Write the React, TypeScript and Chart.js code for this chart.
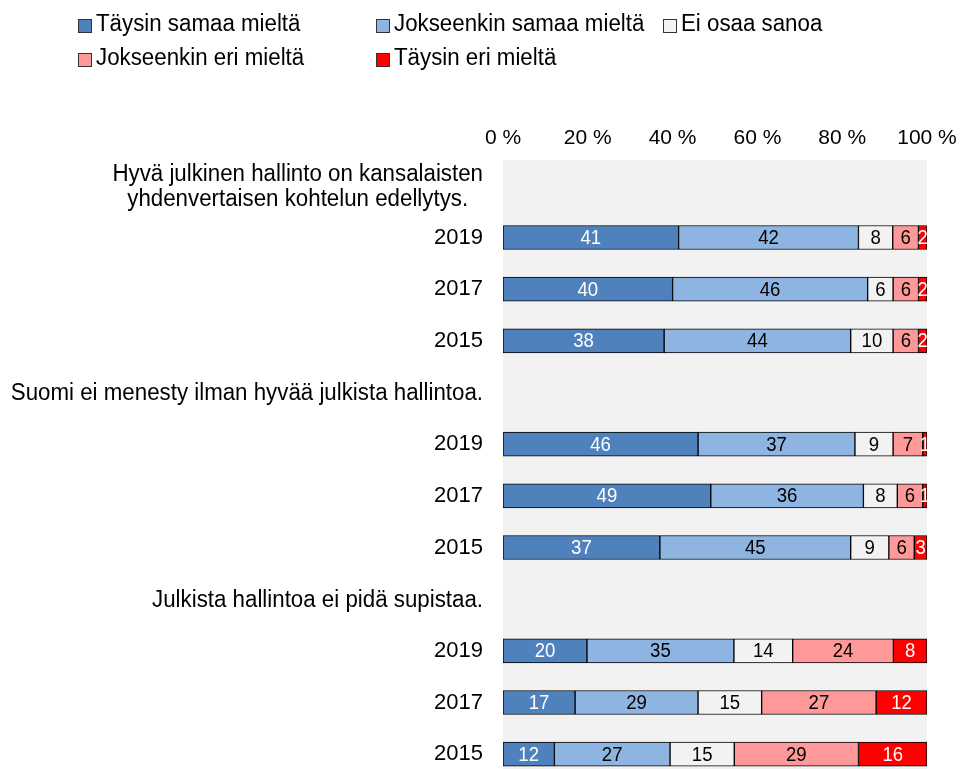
import React, { useEffect, useRef } from 'react';
import { Chart, registerables } from 'chart.js';

Chart.register(...registerables);

const FONT = "'Liberation Sans', Arial, Helvetica, sans-serif";
const STRETCH = 1.08;

// Row labels (arrays = question headings, strings = survey years)
const categories: (string | string[])[] = [
  ['Hyvä julkinen hallinto on kansalaisten', 'yhdenvertaisen kohtelun edellytys.'],
  '2019',
  '2017',
  '2015',
  ['Suomi ei menesty ilman hyvää julkista hallintoa.'],
  '2019',
  '2017',
  '2015',
  ['Julkista hallintoa ei pidä supistaa.'],
  '2019',
  '2017',
  '2015',
];

const seriesNames = [
  'Täysin samaa mieltä',
  'Jokseenkin samaa mieltä',
  'Ei osaa sanoa',
  'Jokseenkin eri mieltä',
  'Täysin eri mieltä',
];

const taysinSamaa = [null, 41, 40, 38, null, 46, 49, 37, null, 20, 17, 12];
const jokseenkinSamaa = [null, 42, 46, 44, null, 37, 36, 45, null, 35, 29, 27];
const eiOsaaSanoa = [null, 8, 6, 10, null, 9, 8, 9, null, 14, 15, 15];
const jokseenkinEri = [null, 6, 6, 6, null, 7, 6, 6, null, 24, 27, 29];
const taysinEri = [null, 2, 2, 2, null, 1, 1, 3, null, 8, 12, 16];

const xTicks = [0, 20, 40, 60, 80, 100];

const seriesValues = [taysinSamaa, jokseenkinSamaa, eiOsaaSanoa, jokseenkinEri, taysinEri];
const fillColors = ['#4f81bd', '#8eb4e2', '#f2f2f2', '#ff9999', '#ff0000'];
const labelColors = ['#ffffff', '#000000', '#000000', '#000000', '#ffffff'];

function stretchedText(ctx: CanvasRenderingContext2D, text: string, x: number, y: number) {
  ctx.save();
  ctx.translate(x, y);
  ctx.scale(1, STRETCH);
  ctx.fillText(text, 0, 0);
  ctx.restore();
}

export default function App() {
  const canvasRef = useRef<HTMLCanvasElement | null>(null);

  useEffect(() => {
    const canvas = canvasRef.current;
    if (!canvas) return;

    // 100 % stacked: each row scaled to its own total
    const totals = categories.map((_, i) =>
      seriesValues.reduce((s, arr) => s + (arr[i] ?? 0), 0)
    );

    const datasets = seriesValues.map((arr, k) => ({
      label: seriesNames[k],
      data: arr.map((v, i) => (v == null ? null : (v / totals[i]) * 100)),
      rawValues: arr,
      backgroundColor: fillColors[k],
      borderColor: '#000000',
      borderWidth: 1,
      borderSkipped: false,
      barThickness: 24,
      stack: 's',
    }));

    const bgPlugin = {
      id: 'plotBg',
      beforeDraw(chart: any) {
        const { ctx, chartArea } = chart;
        ctx.save();
        ctx.fillStyle = '#f2f2f2';
        ctx.fillRect(chartArea.left, chartArea.top, chartArea.right - chartArea.left, chartArea.bottom - chartArea.top);
        ctx.restore();
      },
    };

    const labelPlugin = {
      id: 'valueLabels',
      afterDatasetsDraw(chart: any) {
        const { ctx } = chart;
        ctx.save();
        ctx.font = `18.6px ${FONT}`;
        ctx.textAlign = 'center';
        ctx.textBaseline = 'middle';
        chart.data.datasets.forEach((ds: any, k: number) => {
          const meta = chart.getDatasetMeta(k);
          meta.data.forEach((el: any, i: number) => {
            const raw = ds.rawValues[i];
            if (raw == null) return;
            ctx.fillStyle = labelColors[k];
            stretchedText(ctx, String(raw), (el.base + el.x) / 2, el.y + 1);
          });
        });
        ctx.restore();
      },
    };

    const headingPlugin = {
      id: 'headings',
      afterDraw(chart: any) {
        const { ctx } = chart;
        const yScale = chart.scales.y;
        ctx.save();
        ctx.font = `22.3px ${FONT}`;
        ctx.fillStyle = '#000000';
        ctx.textAlign = 'center';
        ctx.textBaseline = 'middle';
        categories.forEach((c, i) => {
          if (!Array.isArray(c)) return;
          const y = yScale.getPixelForTick(i);
          const maxW = Math.max(...c.map((l) => ctx.measureText(l).width));
          const cx = yScale.right - 20 - maxW / 2;
          const lh = 25;
          const y0 = y - ((c.length - 1) * lh) / 2;
          c.forEach((line, j) => stretchedText(ctx, line, cx, y0 + j * lh + 1));
        });
        ctx.restore();
      },
    };

    const legendPlugin = {
      id: 'customLegend',
      afterDraw(chart: any) {
        const { ctx } = chart;
        const cols = [78, 376, 663];
        const rows = [26, 60];
        ctx.save();
        ctx.font = `22.3px ${FONT}`;
        ctx.textAlign = 'left';
        ctx.textBaseline = 'middle';
        chart.data.datasets.forEach((ds: any, k: number) => {
          const x = cols[k % 3];
          const y = rows[Math.floor(k / 3)];
          ctx.fillStyle = ds.backgroundColor;
          ctx.fillRect(x, y - 7, 14, 14);
          ctx.strokeStyle = '#333333';
          ctx.lineWidth = 1;
          ctx.strokeRect(x + 0.5, y - 6.5, 13, 13);
          ctx.fillStyle = '#000000';
          stretchedText(ctx, ds.label, x + 18, y - 2);
        });
        ctx.restore();
      },
    };

    const chart = new Chart(canvas, {
      type: 'bar',
      data: {
        labels: categories.map((c) => (Array.isArray(c) ? c.join(' ') : c)),
        datasets: datasets as any,
      },
      options: {
        indexAxis: 'y',
        responsive: false,
        animation: false,
        devicePixelRatio: 1,
        layout: { padding: { left: 0, right: 33, top: 0, bottom: 10 } },
        scales: {
          x: {
            type: 'linear',
            stacked: true,
            position: 'top',
            min: 0,
            max: 100,
            afterBuildTicks: (scale: any) => {
              scale.ticks = xTicks.map((v) => ({ value: v }));
            },
            ticks: {
              callback: (v: any) => `${v} %`,
              font: { size: 21, family: FONT },
              color: '#000000',
              padding: 9,
              maxRotation: 0,
            },
            grid: { display: false, drawTicks: false },
            border: { display: false },
            afterFit: (scale: any) => {
              scale.height = 160;
              scale.paddingLeft = 0;
              scale.paddingRight = 0;
            },
          },
          y: {
            type: 'category',
            stacked: true,
            ticks: {
              autoSkip: false,
              callback: (_v: any, i: number) => (Array.isArray(categories[i]) ? '' : (categories[i] as string)),
              font: { size: 22, family: FONT },
              color: '#000000',
              padding: 20,
            },
            grid: { display: false, drawTicks: false },
            border: { display: false },
            afterFit: (scale: any) => {
              scale.width = 503;
              scale.paddingTop = 0;
              scale.paddingBottom = 0;
            },
          },
        },
        plugins: {
          legend: { display: false },
          tooltip: { enabled: false },
        },
      },
      plugins: [bgPlugin, labelPlugin, headingPlugin, legendPlugin],
    });

    return () => chart.destroy();
  }, []);

  return (
    <div
      style={{
        position: 'fixed',
        left: 0,
        top: 0,
        width: 960,
        height: 769,
        overflow: 'hidden',
        background: '#ffffff',
      }}
    >
      <canvas ref={canvasRef} width={960} height={790} style={{ display: 'block' }} />
    </div>
  );
}
